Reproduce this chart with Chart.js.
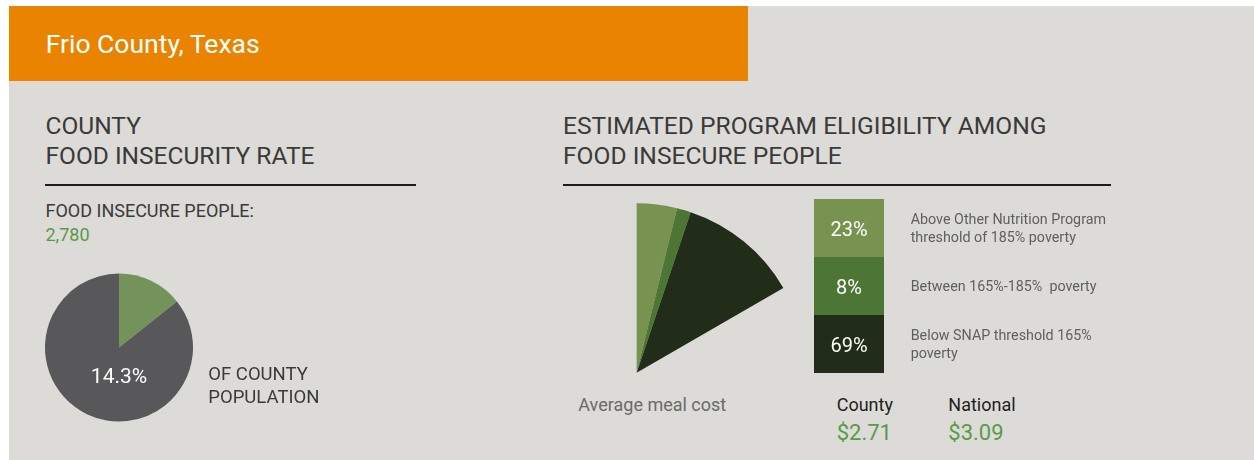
<!DOCTYPE html>
<html>
<head>
<meta charset="utf-8">
<script src="https://cdn.jsdelivr.net/npm/chart.js@4.4.1/dist/chart.umd.min.js"></script>
<style>
  html, body { margin: 0; padding: 0; background: #ffffff; width: 1254px; height: 460px; overflow: hidden; }
  #panel { position: absolute; left: 9px; top: 6px; width: 1245px; height: 454px; background: #dcdbd7; }
  #header { position: absolute; left: 9px; top: 6px; width: 739px; height: 75px; background: #e98300; }
  .t { position: absolute; white-space: pre; font-family: Roboto, "Noto Sans", sans-serif; }
  .rule { position: absolute; height: 2px; background: #1c1c1c; }
  canvas { position: absolute; }
  .box { position: absolute; left: 814px; width: 70px; height: 58px; }
</style>
</head>
<body>
<div id="panel"></div>
<div id="header"></div>
<div class="rule" style="left:45px; top:184px; width:371px;"></div>
<div class="rule" style="left:563px; top:184px; width:548px;"></div>
<canvas id="pieLeft" width="180" height="181" style="left:29px; top:257px;"></canvas>
<canvas id="fan" width="168" height="184" style="left:626px; top:196px;"></canvas>
<div id="layer"></div>
<script>
// ---- data ----
const countyName = "Frio County, Texas";
const insecurityCategories = ["Food insecure", "Not food insecure"];
const insecurityValues = [14.3, 85.7];
const foodInsecurePeople = "2,780";
const eligibilityCategories = [
  ["Above Other Nutrition Program", "threshold of 185% poverty"],
  ["Between 165%-185%  poverty"],
  ["Below SNAP threshold 165%", "poverty"]
];
const eligibilityValues = [23, 8, 69];
const mealCostLabels = ["County", "National"];
const mealCostValues = [2.71, 3.09];

// ---- styles ----
const GREEN_LIGHT = "#77934f", GREEN_MID = "#4d7534", GREEN_DARK = "#212d19";
const PIE_GREEN = "#74935a", PIE_GRAY = "#58585a";
const TEXT_GREEN = "#5b9a4a";

const layer = document.getElementById("layer");
function addText(str, x, baseline, fs, color, opts = {}) {
  const d = document.createElement("div");
  d.className = "t";
  d.textContent = str;
  d.style.fontSize = fs + "px";
  d.style.lineHeight = fs + "px";
  d.style.color = color;
  d.style.top = (baseline - 0.8415 * fs) + "px";
  if (opts.center) {
    d.style.left = (x - 200) + "px";
    d.style.width = "400px";
    d.style.textAlign = "center";
  } else {
    d.style.left = x + "px";
  }
  layer.appendChild(d);
  return d;
}

// header
addText(countyName, 45.7, 53.3, 26.5, "#ffffff");
// headings
const HC = "#3a3a3a";
addText("COUNTY", 45.5, 135, 24.5, HC);
addText("FOOD INSECURITY RATE", 45.5, 165, 24.5, HC);
addText("ESTIMATED PROGRAM ELIGIBILITY AMONG", 563, 135, 24.6, HC);
addText("FOOD INSECURE PEOPLE", 563, 165, 24.6, HC);

addText("FOOD INSECURE PEOPLE:", 45.5, 217.3, 18, HC);
addText(foodInsecurePeople, 45.5, 240.7, 18, TEXT_GREEN);

addText(insecurityValues[0].toFixed(1) + "%", 119, 384, 21, "#ffffff", {center: true});
addText("OF COUNTY", 208.3, 380.7, 18.5, HC);
addText("POPULATION", 208.3, 403.3, 18.5, HC);

// legend boxes + labels
const boxColors = [GREEN_LIGHT, GREEN_MID, GREEN_DARK];
eligibilityValues.forEach((v, i) => {
  const top = 199 + i * 58;
  const b = document.createElement("div");
  b.className = "box";
  b.style.top = top + "px";
  b.style.background = boxColors[i];
  layer.appendChild(b);
  addText(v + "%", 849, top + 37, 20, "#ffffff", {center: true});
  const lines = eligibilityCategories[i];
  const mid = top + 29;
  const firstBase = mid + 4.8 - (lines.length - 1) * 9;
  lines.forEach((ln, j) => addText(ln, 910.7, firstBase + j * 18.3, 14.3, "#5f5f5f"));
});

// meal cost
addText("Average meal cost", 578.3, 410.7, 18, "#6a6a6a");
const mealX = [836.7, 948.3];
mealCostLabels.forEach((l, i) => {
  addText(l, mealX[i], 410.7, 18, "#1e1e1e");
  addText("$" + mealCostValues[i].toFixed(2), mealX[i], 440.7, 22, TEXT_GREEN);
});

// ---- charts ----
const common = {
  responsive: false,
  animation: false,
  events: [],
  layout: { padding: 0 },
  plugins: { legend: { display: false }, tooltip: { enabled: false } }
};

new Chart(document.getElementById("pieLeft"), {
  type: "pie",
  data: {
    labels: insecurityCategories,
    datasets: [{ data: insecurityValues, backgroundColor: [PIE_GREEN, PIE_GRAY], borderWidth: 0 }]
  },
  options: Object.assign({}, common, { radius: 74 })
});

new Chart(document.getElementById("fan"), {
  type: "pie",
  data: {
    labels: eligibilityCategories.map(l => l.join(" ")),
    datasets: [{ data: eligibilityValues, backgroundColor: boxColors, borderWidth: 0 }]
  },
  options: Object.assign({}, common, { radius: 169.4, rotation: 0, circumference: 60 })
});
</script>
</body>
</html>
